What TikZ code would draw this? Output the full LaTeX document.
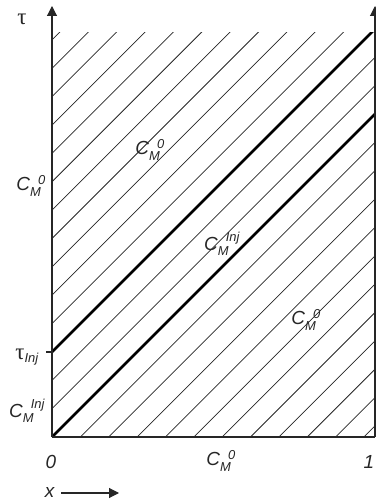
\documentclass[tikz,border=0pt]{standalone}
\usepackage{amsmath}
\usepackage{fontspec}
\setmainfont{Liberation Sans}
\newfontfamily\greekserif{Liberation Serif}
\usetikzlibrary{arrows.meta}
\definecolor{inkgray}{HTML}{262626}
\tikzset{
    hatchline/.style={line width=0.75pt,draw=inkgray},
    boundline/.style={line width=2.6pt,draw=black},
    axisline/.style={line width=1.1pt,draw=inkgray},
    axisarrow/.style={axisline,-{Triangle[length=10pt,width=10pt]}},
    lbl/.style={font=\fontsize{19}{21}\selectfont,inner sep=0pt,text=inkgray}
}
\newcommand\idx[1]{\mbox{\fontsize{13}{14}\selectfont\itshape #1}}
\newcommand\conc[1]{\textit{C}$_{\idx{M}}^{\hspace{8bp}\idx{#1}}$}
\newcommand\tausym{{\greekserif\fontsize{23}{24}\selectfont τ}}

\begin{document}
\begin{tikzpicture}[x=1bp,y=1bp]

\useasboundingbox (0,0) rectangle (375,504);

\coordinate (O) at (52,67);
\coordinate (top) at (52,498);
\coordinate (R) at (375,67);
\coordinate (Rtop) at (375,498);
\coordinate (inj) at (52,152);

\begin{scope}
\clip (52,67) rectangle (375,471);
\foreach \k in {-12,...,14}
    \draw[hatchline] (52,67+\k*28.36) -- ++(420,420);
\draw[boundline] (O) -- ++(420,420);
\draw[boundline] (inj) -- ++(420,420);
\end{scope}

\draw[axisarrow] (O) -- (top);
\draw[axisline] (O) -- (R);
\draw[axisarrow] (R) -- (Rtop);
\draw[axisline] (inj) -- ++(-6,0);

\node[lbl] (tau) at (22,485) {\tausym};
\node[lbl] (cup) at (150,354) {\conc{0}};
\node[lbl] (cleft) at (31,318) {\conc{0}};
\node[lbl] (cmid) at (222,260) {\conc{Inj}};
\node[lbl] (clow) at (306,184) {\conc{0}};
\node[lbl] (tinj) at (27,147) {\tausym$_{\idx{Inj}}$};
\node[lbl] (cinj) at (27,93) {\conc{Inj}};
\node[lbl] (zero) at (51,42) {\textit{0}};
\node[lbl] (cbot) at (221,43) {\conc{0}};
\node[lbl] (one) at (369,42) {\textit{1}};

\node[lbl] (xlab) at (50,11) {\textit{x}};
\coordinate (xend) at (119,11);
\draw[axisarrow] ([xshift=6bp]xlab.east) -- (xend);

\end{tikzpicture}
\end{document}
